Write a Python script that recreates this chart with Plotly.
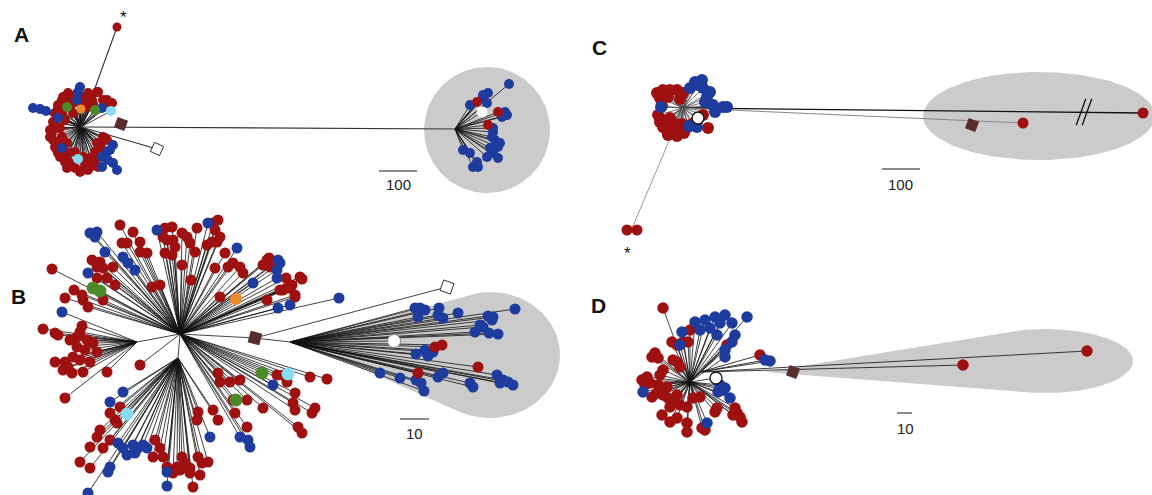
import numpy as np
import plotly.graph_objects as go

# ---------------- colours ----------------
RED = "#9f1010"; BLUE = "#1e3b9e"; GREEN = "#4b8a26"; ORANGE = "#f0892a"
CYAN = "#88dcf2"; BROWN = "#5a2d2d"; HULL = "#cbcbcb"

# ---------------- panel A ----------------
A_ROOT = (81, 127)
A_HUB = (455, 129)
A_core_red = [(62,100),(58,105),(55,113),(53,122),(52,132),(53,140),(55,147),(58,153),(65,157),(70,163),
              (75,168),(83,170),(90,167),(98,167),(90,158),(95,152),(100,147),(103,137),(107,140),(67,97),
              (75,95),(85,97),(92,100),(98,92),(107,100),(112,103),(83,107),(73,113),(65,120),(60,128),
              (62,137),(67,143),(75,152),(83,157),(87,107),(57,143),(80,100),(70,103),(88,95),(93,104),
              (60,116),(57,128),(95,160),(85,163),(63,97),(68,93),(88,93),(97,92),(103,100),(110,103),
              (73,103),(58,107),(90,105),(62,112),(55,122),(50,130),(50,137),(57,150),(60,157),(65,162),
              (72,165),(67,168),(80,172),(88,170),(102,142),(97,143),(105,138),(68,153),(92,163)]
A_core_blue = [(33,108),(40,109),(46,111),(80,87),(78,92),(77,100),(102,108),(58,118),(113,145),(107,152),
               (102,157),(108,160),(113,163),(117,170),(62,148),(102,167),(110,150)]
A_core_cyan = [(111,111),(78,159)]
A_core_green = [(67,107),(95,110)]
A_core_orange = [(81,109)]
A_star_leaf = [(117,27)]
A_white_sq = [(157,149)]
A_brown_sq = [(121,124)]
A_far_blue = [(509,84),(488,93),(483,97),(487,103),(470,105),(505,112),(507,115),(502,117),(493,132),(492,137),
              (495,140),(498,147),(490,148),(493,153),(498,158),(487,157),(463,150),(470,153),(477,162),(473,167),
              (478,167),(500,143),(493,128),(483,95)]
A_far_red = [(477,102),(498,112),(488,125)]
A_far_white = [(482,112)]
A_HULL_CIRCLE = (487, 130, 63, 63)

# ---------------- panel B ----------------
B_ROOT = (180, 334)
B_LEFT_HUB = (137, 342)
B_BOT_HUB = (178, 358)
B_SQ = (255, 338)
B_CLADE_HUB = (290, 342)
B_up_red = [(52,269),(65,298),(74,290),(82,295),(88,307),(83,300),(103,300),(92,260),(100,262),(97,267),
            (103,268),(113,267),(107,278),(115,285),(97,278),(120,225),(133,232),(122,243),(127,243),(140,242),
            (140,252),(147,253),(152,287),(160,285),(172,227),(165,228),(163,237),(167,240),(173,240),(175,247),
            (182,233),(187,237),(197,228),(190,243),(195,252),(182,265),(191,280),(165,253),(172,255),(213,223),
            (218,220),(215,230),(217,242),(212,242),(220,237),(207,245),(225,253),(233,263),(228,267),(240,267),
            (243,273),(215,268),(220,297),(267,260),(270,267),(280,290),(287,288),(292,285),(267,300),(295,297),
            (269,258),(263,265),(286,278),(300,277),(302,279),(283,290),(290,288),(295,295)]
B_up_blue = [(90,233),(95,237),(97,232),(105,252),(88,273),(123,257),(128,263),(135,270),(157,230),(208,223),
             (237,248),(253,283),(278,260),(280,263),(277,270),(277,278),(278,308),(290,305),(339,298)]
B_up_green = [(93,288),(100,291)]
B_up_orange = [(236,299)]
B_rl_red = [(218,373),(220,382),(230,382),(240,380),(233,400),(247,400),(235,413),(247,427),(263,408),(277,375),
            (283,375),(295,393),(293,403),(295,410),(298,427),(327,379),(310,377),(315,408),(312,413),(302,433),
            (287,382),(140,365)]
B_rl_blue = [(273,385),(240,437),(248,440),(250,447)]
B_rl_green = [(262,373),(236,400)]
B_rl_cyan = [(288,374)]
B_left_red = [(43,329),(55,333),(58,335),(82,326),(80,332),(77,337),(87,340),(93,343),(97,352),(77,347),
              (55,362),(65,362),(63,370),(73,357),(80,360),(72,373),(83,372),(90,362),(107,372),(65,398),
              (70,340),(85,350),(68,367)]
B_left_blue = [(62,312)]
B_bot_red = [(110,413),(115,420),(120,407),(100,430),(97,437),(90,447),(80,462),(90,468),(103,448),(110,440),
             (117,423),(155,440),(160,448),(153,457),(163,457),(167,467),(177,467),(182,457),(185,463),(190,468),
             (198,457),(202,463),(208,462),(198,412),(197,420),(213,410),(218,420),(190,473),(200,475),(193,487),
             (173,473),(180,470)]
B_bot_blue = [(110,402),(123,392),(118,443),(123,448),(127,455),(133,445),(138,448),(143,445),(147,448),(135,453),
              (110,467),(108,472),(167,472),(167,486),(210,437),(88,493)]
B_bot_cyan = [(127,414)]
B_clade_blue = [(415,308),(420,308),(425,310),(418,317),(439,308),(438,315),(443,318),(458,313),(515,309),(488,316),
                (493,317),(480,325),(483,327),(492,320),(475,332),(489,333),(498,334),(416,354),(425,350),(433,352),
                (428,356),(380,373),(400,378),(416,380),(421,383),(424,391),(438,377),(443,373),(470,383),(473,387),
                (497,375),(503,380),(508,382),(513,385),(500,383)]
B_clade_red = [(435,347),(442,345),(478,367),(418,373)]
B_clade_white = [(394,341)]
B_white_sq = [(447,287)]
B_HULL_TEAR = (300, 341, 490, 355, 70, 63)

# ---------------- panel C ----------------
C_ROOT = (683, 108)
C_STAR_NODE = (633, 226)
C_core_red = [(657,93),(663,90),(670,90),(677,90),(683,93),(660,98),(668,97),(680,99),(658,115),(663,120),
              (670,118),(663,127),(670,126),(675,131),(668,135),(677,136),(684,133),(688,127),(682,124),(692,124),
              (703,115),(708,128),(662,106),(660,122),(667,131),(680,128),(675,124)]
C_core_blue = [(702,80),(695,82),(698,85),(690,88),(703,88),(710,92),(707,97),(705,102),(715,112),(723,107),
               (727,107),(713,105),(661,107),(689,126),(697,127)]
C_core_white = [(698,118)]
C_star_red = [(627,230),(637,230)]
C_long_red = [(1143,113)]
C_mid_red = [(1023,123)]
C_brown_sq = [(972,125)]
C_BREAK = [(1081,112),(1087,112)]
C_HULL_ELLIPSE = (1039, 116, 116, 44)

# ---------------- panel D ----------------
D_ROOT = (690, 382)
D_HUB = (700, 372)
D_core_red = [(663,308),(672,342),(677,345),(690,330),(688,342),(655,353),(658,358),(652,357),(673,360),(677,362),
              (680,367),(663,370),(660,375),(647,377),(642,380),(645,385),(650,383),(667,387),(657,393),(663,395),
              (668,398),(673,402),(680,405),(687,407),(693,398),(700,397),(677,395),(662,415),(670,422),(677,418),
              (687,423),(687,432),(702,428),(705,430),(715,412),(717,408),(735,408),(737,413),(740,417),(742,422),
              (733,415),(683,342),(727,345),(658,385),(652,397),(670,407)]
D_core_blue = [(682,332),(695,322),(705,320),(715,317),(725,315),(747,317),(720,323),(732,323),(710,328),(700,330),
               (717,335),(735,335),(732,342),(725,350),(725,357),(680,345),(643,392),(720,385),(725,388),(718,392),
               (723,390),(730,398),(707,423)]
D_hub_red = [(760,355),(963,365),(1087,351)]
D_hub_blue = [(765,360),(770,361)]
D_core_white = [(716,378)]
D_brown_sq = [(793,372)]
D_HULL_TEAR = (765, 372, 1045, 361, 88, 32)

# ---------------- labels / scale bars ----------------
PANEL_LABELS = ["A", "B", "C", "D"]
PANEL_LABEL_POS = [(21, 34), (18, 296), (599, 47), (598, 305)]
SCALE_TEXT = ["100", "10", "100", "10"]
SCALE_BAR_X = [(379, 417), (400, 429), (882, 920), (897, 912)]
SCALE_BAR_Y = [171, 419, 169, 413]
SCALE_TEXT_POS = [(398, 184), (414, 433), (900, 184), (905, 428)]
STAR_POS = [(123, 17), (627, 253)]

fig = go.Figure()


def xs(pts):
    return [p[0] for p in pts]


def ys(pts):
    return [p[1] for p in pts]


def ellipse_pts(cx, cy, rx, ry, n=160):
    t = np.linspace(0, 2 * np.pi, n)
    return np.c_[cx + rx * np.cos(t), cy + ry * np.sin(t)]


def hull(points):
    pts = sorted(map(tuple, points))
    def cross(o, a, b):
        return (a[0]-o[0])*(b[1]-o[1]) - (a[1]-o[1])*(b[0]-o[0])
    lower, upper = [], []
    for p in pts:
        while len(lower) >= 2 and cross(lower[-2], lower[-1], p) <= 0:
            lower.pop()
        lower.append(p)
    for p in reversed(pts):
        while len(upper) >= 2 and cross(upper[-2], upper[-1], p) <= 0:
            upper.pop()
        upper.append(p)
    h = lower[:-1] + upper[:-1]
    h.append(h[0])
    return h


def add_fill(poly):
    fig.add_trace(go.Scatter(x=[p[0] for p in poly], y=[p[1] for p in poly], mode="lines",
                             fill="toself", fillcolor=HULL, line=dict(width=0, color=HULL),
                             hoverinfo="skip", showlegend=False))


def add_edges(parent, pts, color="#111", width=0.8):
    X, Y = [], []
    for x, y in pts:
        X += [parent[0], x, None]
        Y += [parent[1], y, None]
    fig.add_trace(go.Scatter(x=X, y=Y, mode="lines", line=dict(color=color, width=width),
                             hoverinfo="skip", showlegend=False))


def add_nodes(pts, color, size, symbol="circle", line_color=None, line_width=0, angle=0):
    fig.add_trace(go.Scatter(x=xs(pts), y=ys(pts), mode="markers",
                             marker=dict(color=color, size=size, symbol=symbol, angle=angle,
                                         line=dict(color=line_color or color, width=line_width)),
                             hoverinfo="skip", showlegend=False))


# hulls
cx, cy, rx, ry = A_HULL_CIRCLE
add_fill(hull(ellipse_pts(cx, cy, rx, ry)))
cx, cy, rx, ry = C_HULL_ELLIPSE
add_fill(hull(ellipse_pts(cx, cy, rx, ry)))
for ax_, ay_, cx, cy, rx, ry in (B_HULL_TEAR, D_HULL_TEAR):
    add_fill(hull(np.vstack([ellipse_pts(cx, cy, rx, ry), [[ax_, ay_]]])))

# ---- edges A
add_edges(A_ROOT, A_core_red + A_core_blue + A_core_cyan + A_core_green + A_core_orange)
add_edges(A_ROOT, [A_HUB], color="#333", width=1.2)
add_edges(A_ROOT, A_star_leaf, color="#333", width=1.1)
add_edges(A_ROOT, A_white_sq, color="#333", width=1.1)
add_edges(A_HUB, A_far_blue + A_far_red + A_far_white)

# ---- edges B
add_edges(B_ROOT, [B_LEFT_HUB, B_BOT_HUB, B_SQ])
add_edges(B_SQ, [B_CLADE_HUB] + B_white_sq)
add_edges(B_ROOT, B_up_red + B_up_blue + B_up_green + B_up_orange + B_rl_red + B_rl_blue + B_rl_green + B_rl_cyan)
add_edges(B_LEFT_HUB, B_left_red + B_left_blue)
add_edges(B_BOT_HUB, B_bot_red + B_bot_blue + B_bot_cyan)
add_edges(B_CLADE_HUB, B_clade_blue + B_clade_red + B_clade_white)

# ---- edges C
add_edges(C_ROOT, C_core_red + C_core_blue + C_core_white, color="#333", width=0.7)
add_edges(C_ROOT, C_long_red, color="#111", width=1.3)
add_edges(C_ROOT, C_mid_red, color="#888", width=1.0)
add_edges(C_ROOT, [C_STAR_NODE], color="#999", width=1.0)
add_edges(C_STAR_NODE, C_star_red, color="#999", width=1.0)

# ---- edges D
add_edges(D_ROOT, D_core_red + D_core_blue + D_core_white + [D_HUB])
add_edges(D_HUB, D_hub_red + D_hub_blue, color="#222", width=0.9)

# ---- nodes A
SA = 10
add_nodes(A_core_red, RED, SA); add_nodes(A_core_blue, BLUE, SA)
add_nodes(A_core_green, GREEN, SA); add_nodes(A_core_orange, ORANGE, 9); add_nodes(A_core_cyan, CYAN, SA)
add_nodes(A_star_leaf, RED, 9)
add_nodes(A_far_blue, BLUE, SA); add_nodes(A_far_red, RED, SA)
add_nodes(A_far_white, "white", 11)
add_nodes(A_white_sq, "white", 10, "square", "#333", 1, 25)
add_nodes(A_brown_sq, BROWN, 11, "square", BROWN, 0, 20)

# ---- nodes B
SB = 11
add_nodes(B_up_red + B_rl_red + B_left_red + B_bot_red, RED, SB)
add_nodes(B_up_blue + B_rl_blue + B_left_blue + B_bot_blue, BLUE, SB)
add_nodes(B_up_green + B_rl_green, GREEN, 13)
add_nodes(B_up_orange, ORANGE, 12)
add_nodes(B_rl_cyan + B_bot_cyan, CYAN, 13)
add_nodes(B_clade_blue, BLUE, SB); add_nodes(B_clade_red, RED, SB)
add_nodes(B_clade_white, "white", 13, "circle", "#777", 0.8)
add_nodes(B_white_sq, "white", 11, "square", "#333", 1, 20)
add_nodes([B_SQ], BROWN, 12, "square", BROWN, 0, 15)

# ---- nodes C
SC = 12
add_nodes(C_core_red, RED, SC); add_nodes(C_core_blue, BLUE, SC)
add_nodes(C_core_white, "white", 12, "circle", "#111", 1.5)
add_nodes(C_star_red + C_long_red + C_mid_red, RED, 11)
add_nodes(C_brown_sq, BROWN, 11, "square", BROWN, 0, 20)
add_nodes(C_BREAK, "#111", 20, "line-ns", "#111", 1.3, 20)

# ---- nodes D
SD = 11.5
add_nodes(D_core_red, RED, SD); add_nodes(D_core_blue, BLUE, SD)
add_nodes(D_hub_red, RED, SD); add_nodes(D_hub_blue, BLUE, SD)
add_nodes(D_core_white, "white", 12, "circle", "#111", 1.3)
add_nodes(D_brown_sq, BROWN, 11, "square", BROWN, 0, 20)

# ---- scale bars
for (x0, x1), y in zip(SCALE_BAR_X, SCALE_BAR_Y):
    fig.add_trace(go.Scatter(x=[x0, x1], y=[y, y], mode="lines", line=dict(color="#666", width=1.5),
                             hoverinfo="skip", showlegend=False))

annotations = []
for t, (x, y) in zip(PANEL_LABELS, PANEL_LABEL_POS):
    annotations.append(dict(x=x, y=y, xref="x", yref="y", text="<b>%s</b>" % t, showarrow=False,
                            font=dict(family="Liberation Sans, Arial", size=21, color="#111"),
                            xanchor="center", yanchor="middle"))
for t, (x, y) in zip(SCALE_TEXT, SCALE_TEXT_POS):
    annotations.append(dict(x=x, y=y, xref="x", yref="y", text=t, showarrow=False,
                            font=dict(family="Liberation Sans, Arial", size=15, color="#222"),
                            xanchor="center", yanchor="middle"))
for (x, y) in STAR_POS:
    annotations.append(dict(x=x, y=y, xref="x", yref="y", text="*", showarrow=False,
                            font=dict(family="Liberation Sans, Arial", size=17, color="#111"),
                            xanchor="center", yanchor="middle"))

fig.update_layout(
    width=1152, height=495,
    margin=dict(l=0, r=0, t=0, b=0),
    paper_bgcolor="white", plot_bgcolor="white",
    xaxis=dict(range=[0, 1152], visible=False, fixedrange=True),
    yaxis=dict(range=[495, 0], visible=False, fixedrange=True),
    annotations=annotations,
    showlegend=False,
)

fig.write_html("out.html", config={"displayModeBar": False},
               post_script="document.body.style.margin='0px';document.body.style.overflow='hidden';")
